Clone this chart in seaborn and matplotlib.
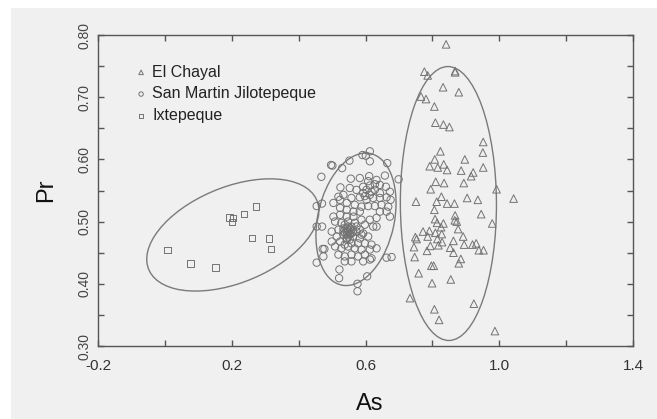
import numpy as np
import pandas as pd
import matplotlib
matplotlib.use("Agg")
import matplotlib.pyplot as plt
from matplotlib.patches import Ellipse, Rectangle
from matplotlib.ticker import MultipleLocator, FormatStrFormatter, FixedLocator
import seaborn as sns

# ---------------- data (As, Pr) ----------------
chayal_as = [0.841, 0.776, 0.786, 0.868, 0.868, 0.832, 0.879, 0.766, 0.781, 0.806,
             0.809, 0.833, 0.851, 0.952, 0.951, 0.824, 0.897, 0.807, 0.792, 0.816,
             0.834, 0.844, 0.886, 0.922, 0.916, 0.952, 0.810, 0.835, 0.894, 0.795,
             0.992, 1.043, 0.751, 0.827, 0.813, 0.844, 0.866, 0.904, 0.936, 0.806,
             0.946, 0.868, 0.808, 0.867, 0.873, 0.833, 0.814, 0.979, 0.826, 0.877,
             0.772, 0.791, 0.809, 0.828, 0.749, 0.786, 0.892, 0.815, 0.863, 0.829,
             0.753, 0.794, 0.818, 0.745, 0.895, 0.920, 0.931, 0.853, 0.784, 0.863,
             0.939, 0.953, 0.747, 0.885, 0.879, 0.797, 0.804, 0.759, 0.855, 0.799,
             0.733, 0.924, 0.806, 0.820, 0.987]
chayal_pr = [0.785, 0.741, 0.735, 0.742, 0.740, 0.716, 0.708, 0.701, 0.697, 0.685,
             0.659, 0.656, 0.652, 0.628, 0.611, 0.613, 0.600, 0.600, 0.589, 0.587,
             0.592, 0.583, 0.582, 0.579, 0.573, 0.587, 0.564, 0.562, 0.562, 0.552,
             0.552, 0.537, 0.532, 0.540, 0.532, 0.529, 0.529, 0.538, 0.535, 0.519,
             0.512, 0.510, 0.504, 0.502, 0.500, 0.497, 0.498, 0.497, 0.491, 0.488,
             0.484, 0.485, 0.482, 0.480, 0.475, 0.476, 0.476, 0.472, 0.469, 0.467,
             0.472, 0.461, 0.462, 0.459, 0.463, 0.463, 0.465, 0.458, 0.453, 0.450,
             0.454, 0.454, 0.443, 0.440, 0.433, 0.429, 0.429, 0.417, 0.407, 0.401,
             0.377, 0.368, 0.359, 0.342, 0.324]

sanmartin_as = [0.497, 0.501, 0.468, 0.530, 0.552, 0.591, 0.601, 0.613, 0.613, 0.665,
                0.699, 0.658, 0.556, 0.525, 0.454, 0.470, 0.454, 0.470, 0.472, 0.477,
                0.454, 0.474, 0.522, 0.521, 0.576, 0.576, 0.605, 0.663, 0.678, 0.633,
                0.673,
                0.583, 0.611, 0.633, 0.643, 0.553, 0.573, 0.593, 0.613, 0.628, 0.643,
                0.661, 0.673, 0.593, 0.613, 0.623, 0.643, 0.663, 0.675, 0.558, 0.583,
                0.603, 0.504, 0.524, 0.544, 0.568, 0.588, 0.608, 0.628, 0.648, 0.668,
                0.524, 0.544, 0.564, 0.583, 0.643, 0.663, 0.519, 0.534,
                0.504, 0.524, 0.544, 0.564, 0.588, 0.613, 0.633, 0.509, 0.528, 0.548,
                0.568, 0.598, 0.623, 0.499, 0.519, 0.534, 0.544, 0.558, 0.573, 0.593,
                0.514, 0.534, 0.548, 0.563, 0.583, 0.608, 0.499, 0.524, 0.544, 0.558,
                0.578, 0.598, 0.618, 0.509, 0.528, 0.548, 0.568, 0.588, 0.613, 0.633,
                0.519, 0.538, 0.558, 0.578, 0.598, 0.618, 0.538, 0.558, 0.593, 0.613,
                0.548, 0.538, 0.553, 0.534, 0.544, 0.553, 0.538, 0.573, 0.583, 0.588,
                0.548, 0.553, 0.544, 0.558, 0.548, 0.553, 0.544, 0.563, 0.539, 0.558,
                0.603, 0.618, 0.598, 0.628, 0.608]
sanmartin_pr = [0.591, 0.590, 0.572, 0.586, 0.598, 0.607, 0.606, 0.613, 0.597, 0.594,
                0.568, 0.574, 0.569, 0.555, 0.525, 0.529, 0.492, 0.492, 0.456, 0.456,
                0.434, 0.444, 0.423, 0.409, 0.400, 0.388, 0.412, 0.442, 0.443, 0.492,
                0.508,
                0.570, 0.573, 0.567, 0.559, 0.554, 0.551, 0.556, 0.558, 0.551, 0.546,
                0.556, 0.548, 0.546, 0.543, 0.538, 0.538, 0.539, 0.535, 0.538, 0.539,
                0.535, 0.530, 0.535, 0.530, 0.527, 0.524, 0.525, 0.525, 0.527, 0.524,
                0.522, 0.519, 0.516, 0.516, 0.516, 0.516, 0.540, 0.543,
                0.508, 0.511, 0.508, 0.508, 0.503, 0.503, 0.506, 0.500, 0.498, 0.500,
                0.498, 0.495, 0.492, 0.484, 0.487, 0.489, 0.484, 0.487, 0.484, 0.481,
                0.476, 0.479, 0.476, 0.476, 0.473, 0.476, 0.468, 0.468, 0.471, 0.465,
                0.465, 0.465, 0.463, 0.460, 0.457, 0.460, 0.457, 0.455, 0.455, 0.457,
                0.447, 0.444, 0.447, 0.444, 0.447, 0.441, 0.436, 0.436, 0.436, 0.439,
                0.492, 0.495, 0.481, 0.484, 0.479, 0.471, 0.463, 0.492, 0.487, 0.479,
                0.487, 0.489, 0.489, 0.481, 0.484, 0.479, 0.473, 0.484, 0.481, 0.492,
                0.551, 0.548, 0.541, 0.560, 0.565]

ixtepeque_as = [0.008, 0.077, 0.152, 0.193, 0.204, 0.201, 0.237, 0.273, 0.261, 0.312, 0.317]
ixtepeque_pr = [0.454, 0.433, 0.426, 0.507, 0.506, 0.499, 0.512, 0.524, 0.474, 0.473, 0.456]

sources = ["El Chayal", "San Martin Jilotepeque", "Ixtepeque"]
x_ticks = [-0.2, 0.2, 0.6, 1.0, 1.4]
y_ticks = [0.30, 0.40, 0.50, 0.60, 0.70, 0.80]

groups = {
    "El Chayal": (chayal_as, chayal_pr),
    "San Martin Jilotepeque": (sanmartin_as, sanmartin_pr),
    "Ixtepeque": (ixtepeque_as, ixtepeque_pr),
}
df = pd.concat([pd.DataFrame({"As": v[0], "Pr": v[1], "Source": k}) for k, v in groups.items()],
               ignore_index=True)

# ---------------- style ----------------
sns.set_style("ticks")
plt.rcParams["font.family"] = ["Liberation Sans", "DejaVu Sans"]

BG = "#f0f0f0"
EDGE = "#737373"
AX = "#555555"

fig = plt.figure(figsize=(6.57, 4.19), dpi=100, facecolor=BG)
# white margins top/left as in reference
fig.patches.append(Rectangle((0, 1 - 8 / 419), 1, 8 / 419, transform=fig.transFigure,
                             facecolor="white", edgecolor="none", zorder=-10))
fig.patches.append(Rectangle((0, 0), 11 / 657, 1, transform=fig.transFigure,
                             facecolor="white", edgecolor="none", zorder=-10))

ax = fig.add_axes([98 / 657, 1 - 346 / 419, (633 - 98) / 657, (346 - 35) / 419])
ax.set_facecolor(BG)

markers = {"El Chayal": "^", "San Martin Jilotepeque": "o", "Ixtepeque": "s"}
sizes = {"El Chayal": 30, "San Martin Jilotepeque": 28, "Ixtepeque": 22}

for src in sources:
    sub = df[df["Source"] == src]
    sns.scatterplot(data=sub, x="As", y="Pr", marker=markers[src], s=sizes[src],
                    color=EDGE, facecolors="none", edgecolor=EDGE, linewidth=0.7,
                    label=src, ax=ax, zorder=3)

# confidence ellipses from each group's covariance
ellipse_scale = {"El Chayal": 2.2, "San Martin Jilotepeque": 2.25, "Ixtepeque": 2.7}
for src in sources:
    sub = df[df["Source"] == src]
    xy = sub[["As", "Pr"]].to_numpy()
    mu = xy.mean(axis=0)
    cov = np.cov(xy, rowvar=False)
    vals, vecs = np.linalg.eigh(cov)
    order = vals.argsort()[::-1]
    vals, vecs = vals[order], vecs[:, order]
    angle = np.degrees(np.arctan2(vecs[1, 0], vecs[0, 0]))
    k = ellipse_scale[src]
    ell = Ellipse(mu, 2 * k * np.sqrt(vals[0]), 2 * k * np.sqrt(vals[1]), angle=angle,
                  facecolor="none", edgecolor="#7a7a7a", linewidth=1.0, zorder=2)
    ax.add_patch(ell)

ax.set_xlim(-0.2, 1.4)
ax.set_ylim(0.30, 0.80)
ax.xaxis.set_major_locator(FixedLocator(x_ticks))
ax.xaxis.set_minor_locator(MultipleLocator(0.2))
ax.yaxis.set_major_locator(FixedLocator(y_ticks))
ax.yaxis.set_minor_locator(MultipleLocator(0.05))
ax.xaxis.set_major_formatter(FormatStrFormatter("%.1f"))
ax.yaxis.set_major_formatter(FormatStrFormatter("%.2f"))

ax.tick_params(which="both", direction="in", top=True, right=True, length=4,
               width=1.0, color=AX)
ax.tick_params(axis="x", which="major", labelsize=11, labelcolor="#333333", pad=9)
ax.tick_params(axis="y", which="major", labelsize=10, labelcolor="#444444", pad=5)
for lab in ax.get_yticklabels():
    lab.set_rotation(90)
    lab.set_va("center")
for sp in ax.spines.values():
    sp.set_color(AX)
    sp.set_linewidth(1.0)
    sp.set_visible(True)

ax.set_xlabel("As", fontsize=17, color="#111111")
ax.set_ylabel("Pr", fontsize=17, color="#111111")
ax.xaxis.set_label_coords((370 - 98) / 535, (346 - 393) / 311)
ax.yaxis.set_label_coords((57 - 98) / 535, 0.5)

leg = ax.legend(loc="upper left", bbox_to_anchor=(0.0686, 0.905), frameon=False,
                fontsize=11.5, markerscale=0.6, handlelength=0.8, handletextpad=0.3,
                labelspacing=0.42, borderpad=0, borderaxespad=0)
for t in leg.get_texts():
    t.set_color("#222222")

fig.savefig("out.png", dpi=100, facecolor=fig.get_facecolor())
